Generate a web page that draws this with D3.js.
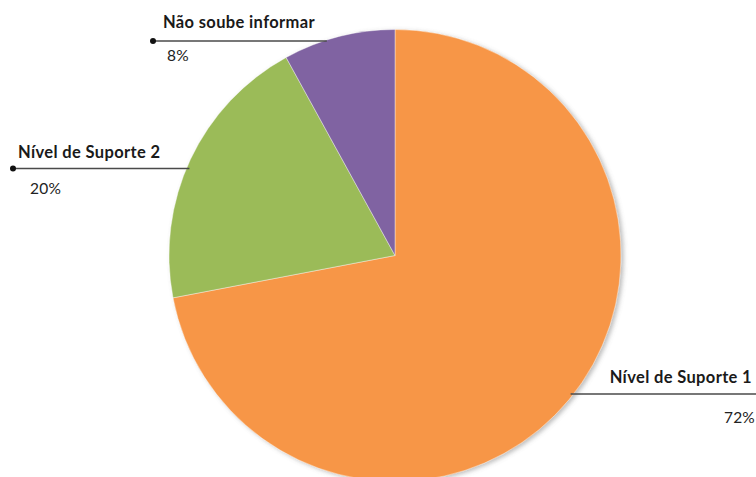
<!DOCTYPE html>
<html>
<head>
<meta charset="utf-8">
<script src="https://cdn.jsdelivr.net/npm/d3@7"></script>
<style>
  html, body { margin: 0; padding: 0; background: #fff; }
  svg { display: block; }
  .name { font-family: "Century Gothic", Lato, "Open Sans", sans-serif; font-weight: 700; font-size: 16.5px; letter-spacing: 0.35px; fill: #1a1a1a; }
  .pct { font-family: "Century Gothic", Lato, "Open Sans", sans-serif; font-weight: 400; font-size: 15.5px; letter-spacing: 0.2px; fill: #222; }
</style>
</head>
<body>
<svg id="chart" width="756" height="477"></svg>
<script>
// Slices, in drawing order clockwise from 12 o'clock
const categories = ["Nível de Suporte 1", "Nível de Suporte 2", "Não soube informar"];
const values = [72, 20, 8];
const valueLabels = ["72%", "20%", "8%"];
const colors = ["#F79646", "#9BBB59", "#8064A2"];

const W = 756, H = 477;
const cx = 395, cy = 255.5, R = 226;

const svg = d3.select("#chart");

// soft grey shadow around the disc
const defs = svg.append("defs");
const f = defs.append("filter").attr("id", "shadow")
  .attr("x", "-10%").attr("y", "-10%").attr("width", "120%").attr("height", "120%");
f.append("feDropShadow")
  .attr("dx", 2.5).attr("dy", 1.5).attr("stdDeviation", 2)
  .attr("flood-color", "#6f6f6f").attr("flood-opacity", 0.45);

const pie = d3.pie().sort(null).value(d => d)(values);
const arc = d3.arc().innerRadius(0).outerRadius(R);

const g = svg.append("g").attr("transform", `translate(${cx},${cy})`);
g.append("g").attr("filter", "url(#shadow)")
  .selectAll("path").data(pie).join("path")
  .attr("d", arc)
  .attr("fill", (d, i) => colors[i])
  .attr("stroke", "#fff").attr("stroke-width", 0.4);

// label layout: leader line height, its outer end, text anchors
const labelLayout = [
  { side: "right", lineY: 394, outerX: 760, nameX: 752, nameY: 383, pctX: 755, pctY: 423, dot: false },
  { side: "left",  lineY: 168.5, outerX: 13,  nameX: 18,  nameY: 158, pctX: 30,  pctY: 194, dot: true },
  { side: "left",  lineY: 41,  outerX: 153, nameX: 163, nameY: 28,  pctX: 167, pctY: 61,  dot: true }
];

const labels = svg.append("g");
labelLayout.forEach((L, i) => {
  const dy = L.lineY - cy;
  const half = Math.sqrt(Math.max(0, R * R - dy * dy));
  const innerX = L.side === "right" ? cx + half - 3 : cx - half + 3;
  labels.append("line")
    .attr("x1", L.outerX).attr("y1", L.lineY)
    .attr("x2", innerX).attr("y2", L.lineY)
    .attr("stroke", "#4a4a4a").attr("stroke-width", 1.6);
  if (L.dot) {
    labels.append("circle").attr("cx", L.outerX).attr("cy", L.lineY).attr("r", 3).attr("fill", "#111");
  }
  const anchor = L.side === "right" ? "end" : "start";
  labels.append("text").attr("class", "name")
    .attr("x", L.nameX).attr("y", L.nameY).attr("text-anchor", anchor)
    .text(categories[i]);
  labels.append("text").attr("class", "pct")
    .attr("x", L.pctX).attr("y", L.pctY).attr("text-anchor", anchor)
    .text(valueLabels[i]);
});
</script>
</body>
</html>
